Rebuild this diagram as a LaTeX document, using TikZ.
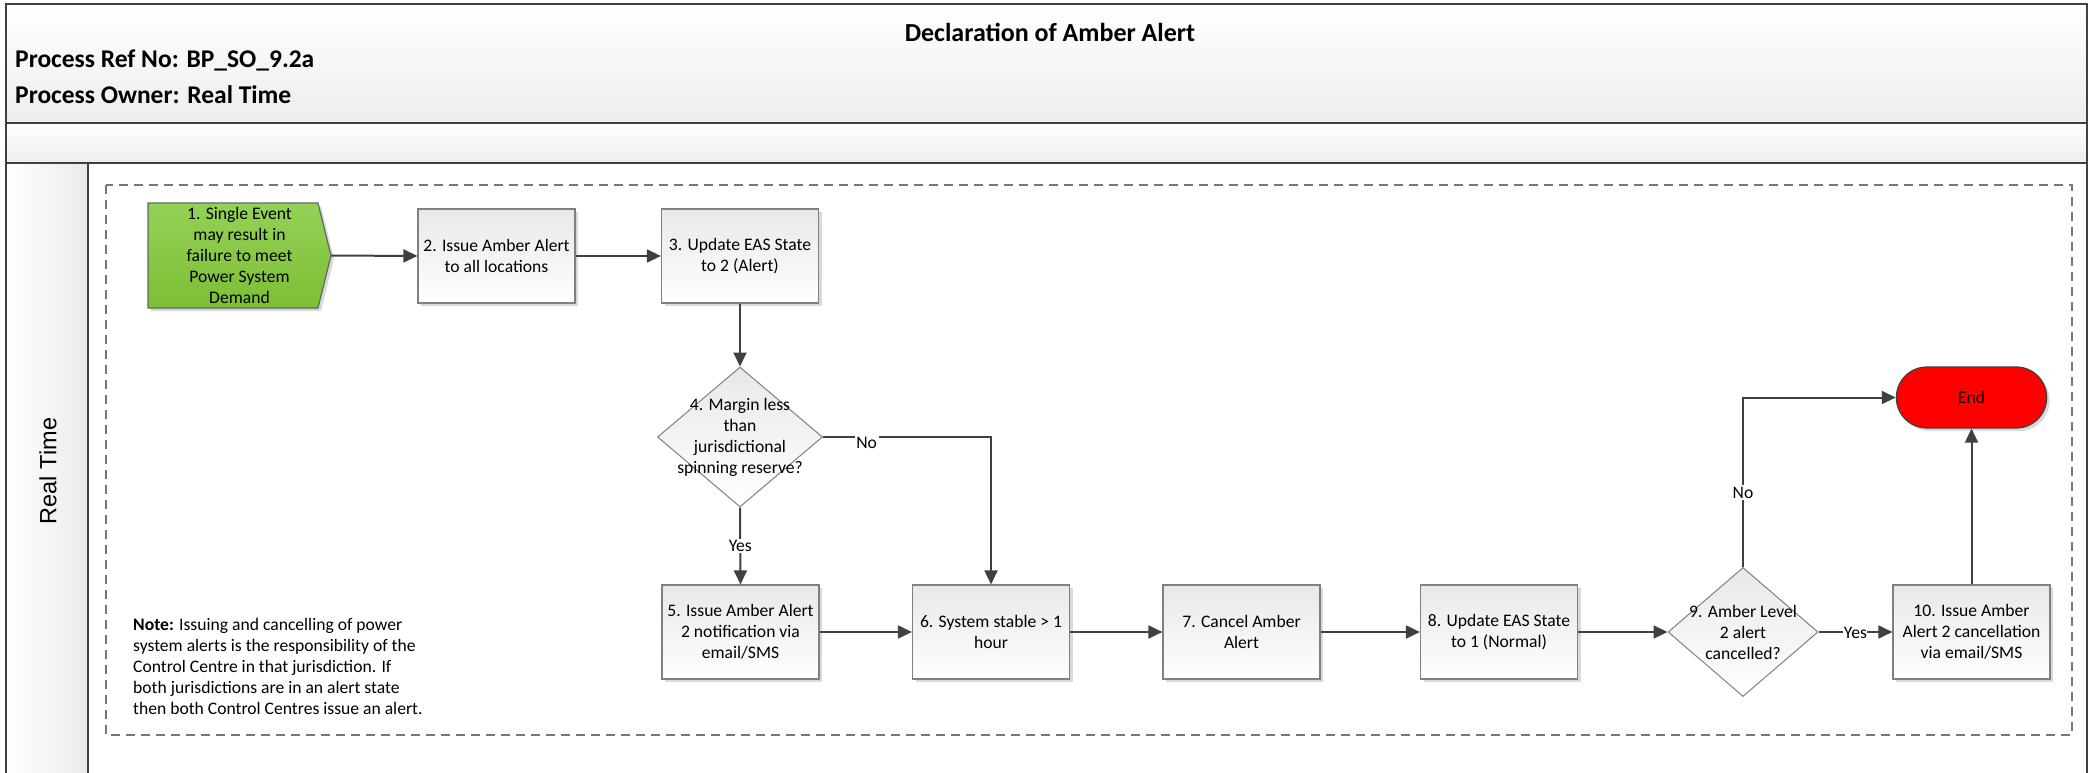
\documentclass[tikz,border=0pt]{standalone}
\usepackage{fontspec}
\setmainfont{Carlito}
\newfontfamily\lanefont{Liberation Sans}
\usetikzlibrary{arrows.meta,shapes.geometric,shapes.misc,shadows}

\definecolor{linegray}{HTML}{404040}
\definecolor{boxedge}{HTML}{808080}
\definecolor{greentop}{HTML}{94D157}
\definecolor{greenbot}{HTML}{7CBF35}
\definecolor{dashgray}{HTML}{777777}
\definecolor{endred}{HTML}{FF0000}

\begin{document}
\begin{tikzpicture}[x=1pt,y=-1pt,
  txt/.style={font=\fontsize{17.6}{21}\selectfont, text=black},
  headtxt/.style={font=\bfseries\fontsize{26}{30}\selectfont, text=black, inner sep=0pt},
  proctxt/.style={font=\bfseries\fontsize{25.5}{30}\selectfont, text=black, inner sep=0pt},
  frame/.style={draw=linegray, line width=2pt},
  boxshadow/.style={drop shadow={shadow xshift=3pt, shadow yshift=-3pt, fill=black!15, opacity=1}},
  flowbox/.style={txt, draw=boxedge, line width=1.2pt, top color=black!9, bottom color=white,
    minimum width=157pt, minimum height=94pt, align=center, inner sep=1pt, boxshadow},
  decision/.style={diamond, draw=boxedge, line width=1pt, top color=black!9, bottom color=white, inner sep=0pt},
  decisiontxt/.style={txt, align=center, inner sep=0pt},
  endbox/.style={txt, rounded rectangle, draw=linegray, line width=1.2pt, fill=endred,
    minimum width=157pt, minimum height=61pt, boxshadow},
  conn/.style={draw=linegray, line width=2pt, -{Triangle[length=14pt,width=13pt]}},
  lbl/.style={txt, fill=white, inner sep=1.5pt}]

\useasboundingbox (0,0) rectangle (2098,773);

% pool frame, header bands and lane
\begin{scope}
  \clip (0,0) rectangle (2098,773);
  \path[top color=white, bottom color=black!7] (6,4) rectangle (2087,123);
  \path[top color=white, bottom color=black!7] (6,123) rectangle (2087,163);
  \path[left color=white, right color=black!8] (6,163) rectangle (88,800);
  \draw[frame] (6,800) -- (6,4) -- (2087,4) -- (2087,800);
  \draw[frame] (6,123) -- (2087,123);
  \draw[frame] (6,163) -- (2087,163);
  \draw[frame] (88,163) -- (88,800);
\end{scope}

\node[headtxt, anchor=base] (title) at (1050,41.5) {Declaration of Amber Alert};
\node[proctxt, anchor=base west] (refno) at (15,68) {Process Ref No: BP\_SO\_9.2a};
\node[proctxt, anchor=base west] (owner) at (15,104) {Process Owner: Real Time};

\node[rotate=90, font=\lanefont\fontsize{23.5}{28}\selectfont, inner sep=0pt] (lane) at (48,471) {Real Time};

% dashed group boundary
\draw[dashgray, line width=1.3pt, dash pattern=on 9pt off 6pt] (106,185) rectangle (2072,735);

% start event (green pointer shape)
\path[draw=black!60, line width=1.2pt, top color=greentop, bottom color=greenbot, boxshadow]
  (148,203) -- (318,203) -- (331,255.5) -- (318,308) -- (148,308) -- cycle;
\node[txt, align=center, minimum width=183pt, minimum height=105pt, inner sep=0pt] (n1) at (239.5,255.5)
  {1. Single Event\\may result in\\failure to meet\\Power System\\Demand};

% process steps
\node[flowbox] (n2) at (496.5,256) {2. Issue Amber Alert\\to all locations};
\node[flowbox] (n3) at (740,256) {3. Update EAS State\\to 2 (Alert)};
\node[decision, minimum width=165pt, minimum height=140pt] (d4) at (740,437) {};
\node[decisiontxt] (d4t) at (d4.center) {4. Margin less\\than\\jurisdictional\\spinning reserve?};
\node[flowbox] (n5) at (740.5,632) {5. Issue Amber Alert\\2 notification via\\email/SMS};
\node[flowbox] (n6) at (991,632) {6. System stable > 1\\hour};
\node[flowbox] (n7) at (1241.5,632) {7. Cancel Amber\\Alert};
\node[flowbox] (n8) at (1499,632) {8. Update EAS State\\to 1 (Normal)};
\node[decision, minimum width=150pt, minimum height=129pt] (d9) at (1743,632) {};
\node[decisiontxt] (d9t) at (d9.center) {9. Amber Level\\2 alert\\cancelled?};
\node[flowbox] (n10) at (1971.5,632) {10. Issue Amber\\Alert 2 cancellation\\via email/SMS};
\node[endbox] (end) at (1971.5,397.5) {End};

% note
\node[txt, anchor=west, align=left, inner sep=0pt] (note) at (133,666)
  {\textbf{Note:} Issuing and cancelling of power\\
   system alerts is the responsibility of the\\
   Control Centre in that jurisdiction. If\\
   both jurisdictions are in an alert state\\
   then both Control Centres issue an alert.};

% connectors
\draw[conn] (n1.east) -- (n2.west);
\draw[conn] (n2.east) -- (n3.west);
\draw[conn] (n3.south) -- (d4.north);
\draw[conn] (d4.south) -- node[lbl] (yes4) {Yes} (n5.north);
\draw[conn] (d4.east) -| node[lbl, pos=0.13, yshift=-6pt] (no4) {No} (n6.north);
\draw[conn] (n5.east) -- (n6.west);
\draw[conn] (n6.east) -- (n7.west);
\draw[conn] (n7.east) -- (n8.west);
\draw[conn] (n8.east) -- (d9.west);
\draw[conn] (d9.east) -- node[lbl, inner sep=0.5pt, yshift=-1pt] (yes9) {Yes} (n10.west);
\draw[conn] (d9.north) |- node[lbl, pos=0.22] (no9) {No} (end.west);
\draw[conn] (n10.north) -- (end.south);

\end{tikzpicture}
\end{document}
